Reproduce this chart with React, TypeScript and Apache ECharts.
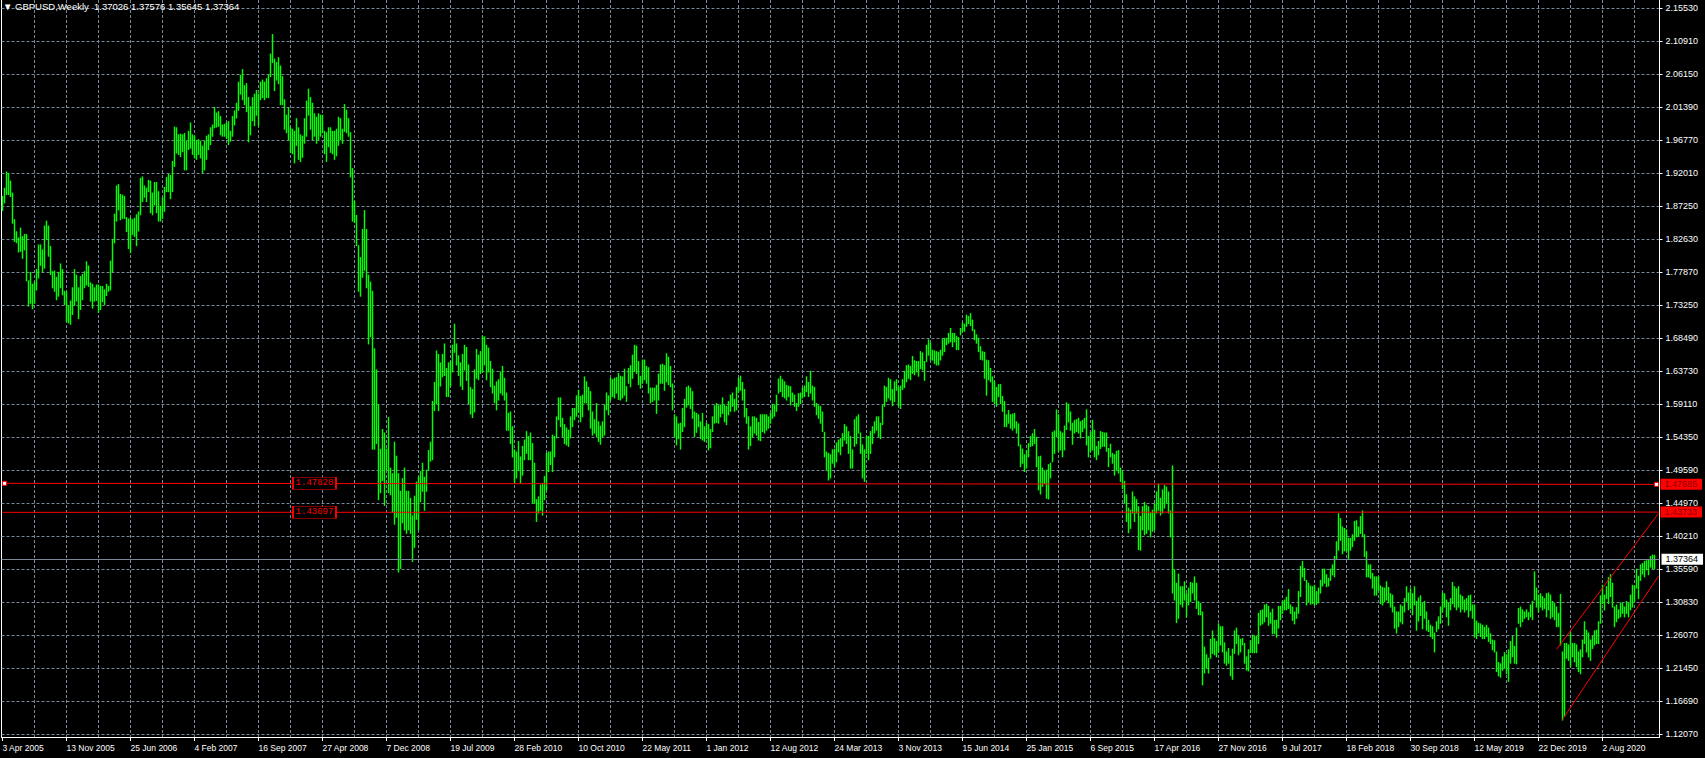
import React, { useEffect, useRef } from "react";
import * as echarts from "echarts";

// ---------- header / meta ----------
const symbolName = "GBPUSD";
const timeframe = "Weekly";
const headerValues = ["1.37026", "1.37576", "1.35645", "1.37364"]; // O H L C of last bar
const firstWeekUTC = Date.UTC(2005, 3, 3); // first bar: 3 Apr 2005
const emptySlotsAfterLast = 2;

// ---------- weekly highs / lows ----------
const high05_07 = [
  1.887,1.899,1.922,1.920,1.909,1.892,1.854,1.837,1.828,1.842,
  1.830,1.833,1.833,1.767,1.779,1.762,1.765,1.783,1.818,1.818,
  1.811,1.845,1.852,1.845,1.816,1.780,1.781,1.772,1.779,1.791,
  1.783,1.752,1.751,1.731,1.738,1.757,1.783,1.775,1.757,1.773,
  1.776,1.780,1.794,1.788,1.764,1.762,1.757,1.761,1.761,1.759,
  1.759,1.754,1.762,1.759,1.795,1.826,1.862,1.902,1.904,1.890,
  1.889,1.887,1.857,1.855,1.856,1.854,1.856,1.861,1.865,1.913,
  1.915,1.902,1.899,1.910,1.909,1.892,1.907,1.907,1.894,1.873,
  1.885,1.900,1.914,1.919,1.917,1.937,1.986,1.985,1.975,1.976,
  1.975,1.977,1.966,1.980,1.992,1.975,1.973,1.967,1.968,1.966,
  1.959,1.966,1.973,1.975,1.985,1.989,2.014,2.006,2.008,2.001,
  1.989,1.990,1.992,1.994,1.980,2.001,2.009,2.020,
];
const low05_07 = [
  1.867,1.878,1.890,1.890,1.887,1.849,1.823,1.821,1.808,1.809,
  1.799,1.811,1.767,1.731,1.735,1.727,1.735,1.754,1.771,1.789,
  1.780,1.785,1.826,1.802,1.776,1.757,1.752,1.740,1.745,1.757,
  1.747,1.733,1.709,1.707,1.705,1.719,1.732,1.738,1.713,1.726,
  1.740,1.757,1.761,1.759,1.738,1.728,1.738,1.739,1.722,1.726,
  1.737,1.733,1.746,1.752,1.754,1.780,1.821,1.852,1.868,1.854,
  1.856,1.856,1.837,1.813,1.807,1.833,1.830,1.817,1.838,1.861,
  1.880,1.886,1.880,1.894,1.864,1.861,1.875,1.864,1.852,1.852,
  1.856,1.866,1.894,1.894,1.884,1.894,1.930,1.949,1.947,1.944,
  1.951,1.925,1.925,1.954,1.956,1.947,1.942,1.940,1.947,1.942,
  1.921,1.925,1.940,1.954,1.961,1.973,1.985,1.986,1.987,1.975,
  1.973,1.973,1.970,1.961,1.966,1.973,1.989,1.999,
];
const high07_09 = [
  2.050,2.060,2.068,2.045,2.048,2.028,2.015,2.028,2.033,2.038,
  2.033,2.050,2.053,2.050,2.055,2.060,2.090,2.118,2.083,2.078,
  2.085,2.073,2.058,2.025,2.003,2.013,1.985,1.983,1.980,1.998,
  1.985,1.975,1.973,1.998,2.023,2.040,2.028,2.020,2.005,2.000,
  2.005,2.003,2.003,1.980,1.978,1.985,1.985,1.980,1.980,1.983,
  2.000,1.998,1.983,2.018,2.010,1.998,1.978,1.927,1.880,1.860,
  1.817,1.800,1.840,1.867,1.840,1.775,1.765,1.752,1.670,1.640,
  1.590,1.527,1.555,1.550,1.527,1.572,1.500,1.492,1.537,1.517,
  1.492,1.467,1.485,1.500,1.467,1.467,1.457,1.432,1.460,1.480,
  1.487,1.495,1.507,1.487,1.497,1.525,1.537,1.595,1.622,1.667,
  1.662,1.650,1.662,1.677,1.642,1.650,1.652,1.675,1.705,1.677,
  1.660,1.650,1.662,1.675,1.672,1.647,1.615,1.612,
];
const low07_09 = [
  2.010,2.033,2.025,2.018,2.008,1.965,1.975,1.995,1.988,2.003,
  1.988,2.025,2.028,2.025,2.028,2.028,2.058,2.078,2.038,2.053,
  2.048,2.018,2.018,1.983,1.978,1.968,1.950,1.948,1.935,1.960,
  1.940,1.937,1.943,1.963,1.973,2.003,1.983,1.968,1.973,1.963,
  1.968,1.973,1.978,1.948,1.937,1.958,1.950,1.948,1.940,1.945,
  1.960,1.968,1.963,1.980,1.978,1.973,1.915,1.852,1.850,1.817,
  1.752,1.745,1.772,1.782,1.757,1.677,1.687,1.527,1.527,1.535,
  1.455,1.465,1.482,1.447,1.497,1.465,1.462,1.437,1.420,1.430,
  1.352,1.357,1.422,1.412,1.407,1.412,1.407,1.367,1.387,1.427,
  1.412,1.452,1.467,1.440,1.467,1.497,1.510,1.512,1.582,1.592,
  1.582,1.617,1.630,1.632,1.602,1.602,1.617,1.637,1.665,1.647,
  1.632,1.617,1.612,1.640,1.625,1.592,1.577,1.572,
];
const high09_12 = [
  1.640,1.669,1.661,1.666,1.688,1.687,1.675,1.671,1.652,1.641,
  1.617,1.623,1.626,1.637,1.645,1.628,1.607,1.578,1.580,1.559,
  1.526,1.523,1.538,1.516,1.531,1.540,1.552,1.545,1.550,1.535,
  1.507,1.455,1.459,1.476,1.478,1.488,1.521,1.523,1.523,1.547,
  1.545,1.573,1.600,1.600,1.571,1.562,1.557,1.554,1.573,1.585,
  1.585,1.603,1.611,1.602,1.604,1.630,1.623,1.615,1.609,1.580,
  1.569,1.592,1.566,1.560,1.566,1.590,1.607,1.603,1.628,1.626,
  1.628,1.629,1.635,1.631,1.630,1.641,1.616,1.642,1.646,1.661,
  1.675,1.674,1.652,1.631,1.654,1.654,1.645,1.643,1.614,1.614,
  1.614,1.618,1.634,1.647,1.648,1.646,1.663,1.658,1.645,1.620,
  1.576,1.573,1.563,1.564,1.585,1.598,1.615,1.617,1.614,1.609,
  1.580,1.578,1.576,1.566,1.578,1.559,1.564,1.562,
];
const low09_12 = [
  1.580,1.628,1.626,1.635,1.637,1.647,1.626,1.637,1.616,1.607,
  1.593,1.583,1.597,1.607,1.604,1.597,1.554,1.554,1.535,1.516,
  1.478,1.486,1.497,1.479,1.490,1.512,1.521,1.512,1.512,1.450,
  1.450,1.424,1.436,1.440,1.433,1.455,1.469,1.495,1.505,1.495,
  1.516,1.543,1.569,1.559,1.545,1.535,1.533,1.531,1.543,1.559,
  1.569,1.574,1.580,1.566,1.573,1.593,1.593,1.583,1.557,1.547,
  1.550,1.545,1.538,1.534,1.545,1.547,1.583,1.576,1.597,1.602,
  1.600,1.607,1.598,1.597,1.600,1.604,1.595,1.621,1.616,1.628,
  1.638,1.635,1.619,1.614,1.621,1.626,1.621,1.607,1.593,1.595,
  1.597,1.578,1.597,1.621,1.621,1.611,1.623,1.619,1.616,1.583,
  1.545,1.533,1.542,1.527,1.552,1.559,1.587,1.590,1.585,1.571,
  1.545,1.551,1.559,1.542,1.540,1.538,1.542,1.526,
];
const high12_14 = [
  1.555,1.573,1.589,1.592,1.589,1.590,1.600,1.590,1.588,1.595,
  1.604,1.607,1.598,1.615,1.628,1.631,1.622,1.612,1.585,1.573,
  1.559,1.573,1.573,1.571,1.565,1.576,1.576,1.576,1.576,1.573,
  1.578,1.591,1.590,1.604,1.627,1.631,1.626,1.623,1.618,1.617,
  1.616,1.607,1.604,1.592,1.606,1.607,1.614,1.617,1.630,1.622,
  1.638,1.617,1.615,1.592,1.589,1.588,1.580,1.551,1.523,1.521,
  1.519,1.526,1.527,1.536,1.540,1.542,1.549,1.562,1.559,1.552,
  1.545,1.526,1.569,1.573,1.576,1.550,1.533,1.526,1.545,1.545,
  1.552,1.559,1.566,1.573,1.573,1.564,1.589,1.617,1.615,1.628,
  1.626,1.612,1.623,1.626,1.615,1.617,1.626,1.638,1.646,1.647,
  1.645,1.659,1.653,1.652,1.652,1.666,1.664,1.652,1.675,1.683,
  1.678,1.668,1.667,1.666,1.665,1.668,1.683,1.685,
];
const low12_14 = [
  1.529,1.552,1.564,1.565,1.564,1.573,1.578,1.566,1.562,1.576,
  1.581,1.588,1.581,1.583,1.608,1.611,1.597,1.573,1.564,1.527,
  1.532,1.545,1.550,1.547,1.540,1.539,1.552,1.550,1.554,1.557,
  1.564,1.571,1.574,1.581,1.607,1.609,1.602,1.600,1.597,1.602,
  1.590,1.595,1.588,1.582,1.588,1.592,1.600,1.602,1.609,1.602,
  1.607,1.597,1.588,1.576,1.571,1.564,1.552,1.516,1.497,1.483,
  1.486,1.507,1.502,1.509,1.523,1.519,1.531,1.540,1.535,1.521,
  1.500,1.500,1.531,1.535,1.550,1.521,1.486,1.481,1.521,1.512,
  1.521,1.535,1.550,1.554,1.545,1.542,1.562,1.588,1.595,1.600,
  1.597,1.589,1.595,1.611,1.589,1.585,1.612,1.615,1.623,1.628,
  1.626,1.635,1.633,1.637,1.631,1.642,1.640,1.625,1.652,1.661,
  1.654,1.654,1.649,1.647,1.647,1.654,1.661,1.666,
];
const high14_16 = [
  1.685,1.692,1.699,1.692,1.692,1.688,1.686,1.699,1.707,1.705,
  1.718,1.716,1.720,1.711,1.697,1.690,1.685,1.673,1.666,1.665,
  1.654,1.653,1.642,1.630,1.623,1.615,1.619,1.619,1.602,1.595,
  1.576,1.582,1.576,1.577,1.578,1.566,1.563,1.533,1.527,1.519,
  1.525,1.535,1.545,1.549,1.555,1.544,1.516,1.517,1.500,1.496,
  1.497,1.505,1.507,1.551,1.553,1.583,1.576,1.552,1.550,1.560,
  1.593,1.591,1.580,1.564,1.568,1.569,1.571,1.566,1.568,1.571,
  1.583,1.545,1.551,1.568,1.554,1.531,1.538,1.552,1.551,1.550,
  1.550,1.528,1.534,1.521,1.519,1.524,1.525,1.500,1.495,1.481,
  1.462,1.443,1.440,1.466,1.459,1.455,1.445,1.431,1.445,1.451,
  1.447,1.445,1.436,1.440,1.449,1.466,1.477,1.457,1.469,1.475,
  1.473,1.466,1.439,1.503,1.355,1.336,1.349,1.331,
];
const low14_16 = [
  1.676,1.678,1.680,1.673,1.680,1.669,1.669,1.690,1.695,1.695,
  1.702,1.706,1.703,1.696,1.683,1.678,1.666,1.655,1.654,1.628,
  1.604,1.626,1.623,1.595,1.592,1.588,1.602,1.592,1.581,1.559,
  1.559,1.564,1.557,1.554,1.557,1.550,1.532,1.502,1.507,1.495,
  1.500,1.516,1.531,1.532,1.535,1.502,1.469,1.463,1.474,1.478,
  1.457,1.456,1.486,1.509,1.521,1.545,1.524,1.526,1.516,1.526,
  1.555,1.566,1.554,1.534,1.550,1.552,1.550,1.543,1.552,1.557,
  1.533,1.516,1.524,1.526,1.516,1.512,1.519,1.528,1.531,1.531,
  1.524,1.502,1.516,1.507,1.490,1.497,1.493,1.481,1.471,1.450,
  1.424,1.408,1.414,1.436,1.424,1.436,1.384,1.383,1.412,1.405,
  1.407,1.412,1.402,1.410,1.412,1.436,1.440,1.433,1.436,1.443,
  1.450,1.436,1.402,1.322,1.312,1.280,1.286,1.306,
];
const high16_18 = [
  1.331,1.338,1.321,1.329,1.337,1.336,1.345,1.336,1.310,1.307,
  1.295,1.245,1.234,1.229,1.256,1.268,1.257,1.253,1.278,1.274,
  1.274,1.251,1.238,1.243,1.232,1.242,1.268,1.272,1.261,1.256,
  1.257,1.250,1.231,1.241,1.254,1.262,1.261,1.260,1.293,1.297,
  1.298,1.305,1.306,1.303,1.294,1.299,1.283,1.283,1.303,1.303,
  1.310,1.312,1.316,1.327,1.305,1.302,1.295,1.301,1.324,1.360,
  1.367,1.357,1.340,1.336,1.332,1.331,1.333,1.324,1.329,1.340,
  1.356,1.356,1.348,1.343,1.356,1.362,1.374,1.395,1.435,1.428,
  1.416,1.414,1.412,1.400,1.400,1.405,1.424,1.425,1.416,1.431,
  1.439,1.405,1.381,1.362,1.362,1.350,1.345,1.345,1.345,1.332,
  1.330,1.329,1.338,1.330,1.321,1.319,1.302,1.295,1.295,1.305,
  1.303,1.314,1.331,1.322,1.328,1.321,1.331,1.310,
];
const low16_18 = [
  1.302,1.312,1.288,1.305,1.310,1.322,1.312,1.300,1.291,1.291,
  1.191,1.208,1.215,1.208,1.229,1.236,1.234,1.231,1.238,1.248,
  1.238,1.222,1.219,1.222,1.204,1.199,1.236,1.250,1.234,1.238,
  1.248,1.222,1.212,1.211,1.237,1.237,1.237,1.237,1.250,1.276,
  1.278,1.281,1.288,1.276,1.279,1.264,1.264,1.259,1.272,1.284,
  1.293,1.298,1.298,1.300,1.293,1.283,1.278,1.286,1.293,1.317,
  1.345,1.340,1.305,1.310,1.306,1.307,1.305,1.306,1.308,1.322,
  1.332,1.336,1.331,1.332,1.340,1.348,1.345,1.371,1.383,1.397,
  1.378,1.382,1.382,1.371,1.383,1.388,1.397,1.402,1.403,1.407,
  1.402,1.374,1.345,1.345,1.343,1.329,1.319,1.319,1.326,1.307,
  1.305,1.310,1.312,1.308,1.302,1.295,1.272,1.265,1.274,1.281,
  1.278,1.295,1.310,1.298,1.300,1.291,1.305,1.269,
];
const high18_21 = [
  1.315,1.318,1.307,1.310,1.295,1.283,1.276,1.274,1.265,1.281,
  1.288,1.302,1.322,1.321,1.312,1.307,1.314,1.337,1.331,1.328,
  1.331,1.319,1.317,1.312,1.314,1.318,1.319,1.305,1.305,1.282,
  1.279,1.278,1.276,1.273,1.276,1.272,1.264,1.255,1.254,1.238,
  1.223,1.221,1.231,1.237,1.234,1.241,1.253,1.260,1.246,1.272,
  1.300,1.302,1.298,1.295,1.298,1.294,1.305,1.310,1.352,1.329,
  1.319,1.321,1.317,1.314,1.321,1.322,1.319,1.310,1.307,1.302,
  1.293,1.320,1.238,1.250,1.250,1.248,1.265,1.250,1.250,1.248,
  1.238,1.241,1.255,1.281,1.269,1.265,1.255,1.260,1.268,1.269,
  1.281,1.318,1.333,1.319,1.331,1.344,1.348,1.336,1.302,1.305,
  1.298,1.308,1.307,1.302,1.310,1.307,1.319,1.333,1.332,1.356,
  1.346,1.362,1.364,1.367,1.368,1.369,1.374,1.376,1.37576,
];
const low18_21 = [
  1.282,1.290,1.271,1.286,1.269,1.267,1.260,1.257,1.238,1.267,
  1.271,1.279,1.295,1.302,1.288,1.276,1.298,1.307,1.302,1.298,
  1.302,1.295,1.299,1.295,1.298,1.288,1.297,1.286,1.260,1.257,
  1.265,1.260,1.257,1.257,1.260,1.253,1.250,1.241,1.238,1.210,
  1.204,1.202,1.212,1.215,1.207,1.196,1.222,1.231,1.222,1.221,
  1.279,1.274,1.281,1.286,1.288,1.284,1.288,1.284,1.312,1.302,
  1.295,1.302,1.298,1.300,1.288,1.298,1.286,1.288,1.284,1.274,
  1.274,1.248,1.141,1.146,1.229,1.226,1.217,1.231,1.224,1.217,
  1.210,1.207,1.231,1.250,1.238,1.231,1.226,1.243,1.248,1.250,
  1.250,1.279,1.307,1.298,1.314,1.307,1.317,1.302,1.274,1.281,
  1.286,1.288,1.293,1.288,1.293,1.288,1.298,1.302,1.310,1.329,
  1.314,1.340,1.349,1.345,1.355,1.348,1.359,1.357,1.35645,
];

// ---------- price axis ----------
const yTickLabels = [
  "2.15530","2.10910","2.06150","2.01390","1.96770","1.92010","1.87250","1.82630",
  "1.77870","1.73250","1.68490","1.63730","1.59110","1.54350","1.49590","1.44970",
  "1.40210","1.35590","1.30830","1.26070","1.21450","1.16690","1.12070",
];
const yTickTop = 2.1553;
const yTickStep = 0.04703;
const yMin = 1.11679;
const yMax = 2.16713;

// ---------- drawn objects ----------
const currentPrice = 1.37364;
const resistanceUpper = [[0, 1.47828], [828, 1.47685]];
const resistanceLower = [[0, 1.43697], [828, 1.43733]];
const resistanceUpperLabel = { left: "1.47828", right: "1.47685", boxAt: 156 };
const resistanceLowerLabel = { left: "1.43697", right: "1.43733", boxAt: 156 };
const channelUpper = [[777, 1.2416], [828, 1.4355]];
const channelLower = [[780, 1.1419], [828, 1.3461]];

const MONTHS = ["Jan","Feb","Mar","Apr","May","Jun","Jul","Aug","Sep","Oct","Nov","Dec"];
const FONT = "'Liberation Sans', Arial, 'DejaVu Sans', sans-serif";
const BAR_GREEN = "#00ff00";

export default function App() {
  const ref = useRef<HTMLDivElement>(null);

  useEffect(() => {
    if (!ref.current) return;
    const highs = [...high05_07, ...high07_09, ...high09_12, ...high12_14, ...high14_16, ...high16_18, ...high18_21];
    const lows = [...low05_07, ...low07_09, ...low09_12, ...low12_14, ...low14_16, ...low16_18, ...low18_21];
    const n = highs.length + emptySlotsAfterLast;
    const categories = Array.from({ length: n }, (_, i) => {
      const d = new Date(firstWeekUTC + i * 7 * 86400000);
      return `${d.getUTCDate()} ${MONTHS[d.getUTCMonth()]} ${d.getUTCFullYear()}`;
    });
    const bars = highs.map((h, i) => [i, lows[i], h]);
    const yTickValues = yTickLabels.map((_, k) => +(yTickTop - k * yTickStep).toFixed(5));
    const yFormatter = (v: number) => {
      const k = Math.round((yTickTop - v) / yTickStep);
      return yTickLabels[k] ?? "";
    };

    const chart = echarts.init(ref.current, undefined, { renderer: "svg" });
    const boxLabel = (text: string) => ({
      show: true,
      position: "inside",
      formatter: text,
      color: "#ff0000",
      fontSize: 9,
      fontFamily: "'Liberation Mono', 'DejaVu Sans Mono', monospace",
    });
    const handle = (coord: number[]) => ({
      coord,
      symbol: "rect",
      symbolSize: 4,
      itemStyle: { color: "#ffffff", borderColor: "#ff0000", borderWidth: 1 },
      label: { show: false },
    });
    const endLbl = (text: string) => ({
      show: true,
      formatter: text,
      backgroundColor: "#ff0000",
      color: "#8b0000",
      fontSize: 9,
      fontFamily: FONT,
      padding: [1, 5, 1, 4],
      distance: 2,
    });

    chart.setOption({
      animation: false,
      backgroundColor: "#000000",
      title: {
        text: `\u25BC ${symbolName},${timeframe}  ${headerValues.join(" ")}`,
        left: 3,
        top: 1,
        padding: 0,
        textStyle: { color: "#ffffff", fontSize: 9.5, fontWeight: "normal", fontFamily: FONT },
      },
      grid: { left: 1.5, top: 0, width: 1658, height: 737, containLabel: false, outerBoundsMode: "none" },
      xAxis: {
        type: "category",
        data: categories,
        boundaryGap: true,
        axisLine: { show: true, lineStyle: { color: "#ffffff", width: 1 } },
        axisTick: { show: true, interval: 31, alignWithLabel: true, length: 4, lineStyle: { color: "#ffffff" } },
        axisLabel: { interval: 31, align: "left", color: "#ffffff", fontSize: 8.5, margin: 6, fontFamily: FONT },
        splitLine: {
          show: true,
          interval: 15,
          alignWithLabel: true,
          showMinLine: false,
          lineStyle: { color: "#778899", type: [3, 2], width: 1 },
        },
      },
      yAxis: {
        type: "value",
        position: "right",
        min: yMin,
        max: yMax,
        axisLine: { show: true, lineStyle: { color: "#ffffff", width: 1 } },
        axisTick: { show: true, customValues: yTickValues, length: 3, lineStyle: { color: "#ffffff" } },
        axisLabel: { customValues: yTickValues, formatter: yFormatter, color: "#ffffff", fontSize: 9, margin: 6, fontFamily: FONT },
        splitLine: { show: true, lineStyle: { color: "#778899", type: [3, 2], width: 1 } },
      },
      graphic: [
        { type: "line", shape: { x1: 1.5, y1: 0, x2: 1.5, y2: 737 }, style: { stroke: "#ffffff", lineWidth: 1 }, silent: true },
      ],
      series: [
        {
          type: "custom",
          name: symbolName,
          data: bars,
          encode: { x: 0, y: [1, 2] },
          clip: true,
          renderItem: (_params: any, api: any) => {
            const i = api.value(0);
            const lo = api.coord([i, api.value(1)]);
            const hi = api.coord([i, api.value(2)]);
            const w = 1.45;
            return {
              type: "rect",
              shape: { x: lo[0] - w / 2, y: hi[1] - 0.5, width: w, height: Math.max(1, lo[1] - hi[1] + 1) },
              style: { fill: BAR_GREEN },
            };
          },
          markLine: {
            silent: true,
            symbol: ["none", "none"],
            data: [
              {
                yAxis: currentPrice,
                lineStyle: { color: "#778899", type: "solid", width: 1 },
                label: {
                  show: true,
                  position: "end",
                  formatter: currentPrice.toFixed(5),
                  backgroundColor: "#ffffff",
                  color: "#000000",
                  fontSize: 9,
                  fontFamily: FONT,
                  padding: [1, 5, 1, 4],
                  distance: 2,
                },
              },
            ],
          },
        },
        {
          type: "line",
          data: resistanceUpper,
          symbol: "none",
          silent: true,
          lineStyle: { color: "#ff0000", width: 1 },
          endLabel: endLbl(resistanceUpperLabel.right),
          markPoint: {
            silent: true,
            data: [
              {
                coord: [resistanceUpperLabel.boxAt, resistanceUpper[0][1]],
                symbol: "rect",
                symbolSize: [43, 12],
                itemStyle: { color: "#000000", borderColor: "#ff0000", borderWidth: 1 },
                label: boxLabel(resistanceUpperLabel.left),
              },
              handle([1, resistanceUpper[0][1]]),
              handle([827, resistanceUpper[1][1]]),
            ],
          },
        },
        {
          type: "line",
          data: resistanceLower,
          symbol: "none",
          silent: true,
          lineStyle: { color: "#ff0000", width: 1 },
          endLabel: endLbl(resistanceLowerLabel.right),
          markPoint: {
            silent: true,
            data: [
              {
                coord: [resistanceLowerLabel.boxAt, resistanceLower[0][1]],
                symbol: "rect",
                symbolSize: [43, 12],
                itemStyle: { color: "#000000", borderColor: "#ff0000", borderWidth: 1 },
                label: boxLabel(resistanceLowerLabel.left),
              },
            ],
          },
        },
        {
          type: "line",
          data: channelUpper,
          symbol: "none",
          silent: true,
          lineStyle: { color: "#ff0000", width: 1 },
        },
        {
          type: "line",
          data: channelLower,
          symbol: "none",
          silent: true,
          lineStyle: { color: "#ff0000", width: 1 },
        },
      ],
    });

    return () => chart.dispose();
  }, []);

  return (
    <div
      ref={ref}
      style={{ position: "fixed", left: 0, top: 0, width: 1705, height: 758, background: "#000000" }}
    />
  );
}
